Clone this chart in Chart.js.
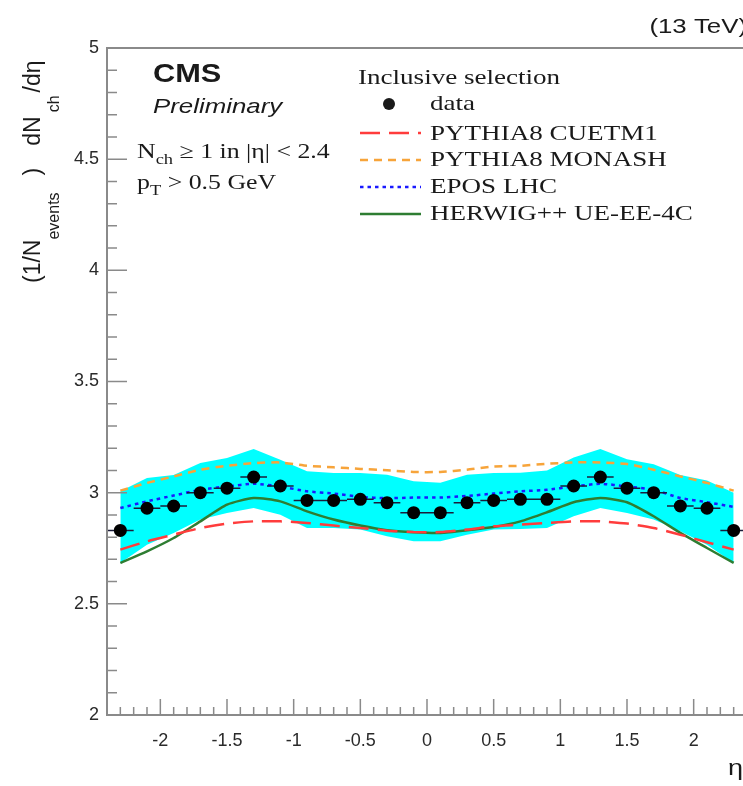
<!DOCTYPE html>
<html>
<head>
<meta charset="utf-8">
<script src="https://cdn.jsdelivr.net/npm/chart.js@4.4.1/dist/chart.umd.min.js"></script>
<style>
html, body { margin: 0; padding: 0; background: #fff; overflow: hidden; }
#wrap { width: 760px; height: 786px; }
</style>
</head>
<body>
<div id="wrap"><canvas id="etaChart" width="760" height="786"></canvas></div>
<script>
// ===== DATA =====
const etaBins = [-2.3, -2.1, -1.9, -1.7, -1.5, -1.3, -1.1, -0.9, -0.7, -0.5, -0.3, -0.1,
                 0.1, 0.3, 0.5, 0.7, 0.9, 1.1, 1.3, 1.5, 1.7, 1.9, 2.1, 2.3];
const etaHalfWidth = 0.1;
const dataValues = [2.83, 2.93, 2.94, 3.00, 3.02, 3.07, 3.03, 2.965, 2.965, 2.97, 2.955, 2.91,
                    2.91, 2.955, 2.965, 2.97, 2.97, 3.03, 3.07, 3.02, 3.00, 2.94, 2.93, 2.83];
const systUpper = [3.006, 3.066, 3.08, 3.133, 3.156, 3.196, 3.148, 3.096, 3.089, 3.089, 3.081, 3.051,
                   3.045, 3.081, 3.089, 3.09, 3.10, 3.158, 3.196, 3.15, 3.128, 3.08, 3.055, 3.0];
const systLower = [2.684, 2.766, 2.819, 2.879, 2.909, 2.931, 2.901, 2.841, 2.841, 2.834, 2.804, 2.781,
                   2.781, 2.811, 2.834, 2.837, 2.841, 2.894, 2.931, 2.909, 2.879, 2.826, 2.766, 2.684];
const cuetm1 = [2.744, 2.781, 2.811, 2.841, 2.861, 2.871, 2.871, 2.864, 2.852, 2.841, 2.829, 2.823,
                2.823, 2.834, 2.849, 2.856, 2.864, 2.871, 2.871, 2.861, 2.841, 2.811, 2.777, 2.744];
const monash = [3.009, 3.044, 3.073, 3.103, 3.121, 3.133, 3.136, 3.121, 3.114, 3.107, 3.101, 3.093,
                3.093, 3.103, 3.118, 3.121, 3.13, 3.136, 3.136, 3.129, 3.103, 3.073, 3.044, 3.009];
const eposLhc = [2.931, 2.961, 2.987, 3.013, 3.028, 3.04, 3.028, 3.006, 2.996, 2.981, 2.975, 2.978,
                 2.978, 2.985, 2.996, 3.006, 3.013, 3.028, 3.04, 3.028, 3.013, 2.976, 2.957, 2.936];
const herwig = [2.684, 2.736, 2.796, 2.871, 2.946, 2.976, 2.961, 2.916, 2.879, 2.852, 2.831, 2.822,
                2.819, 2.831, 2.846, 2.871, 2.912, 2.957, 2.976, 2.957, 2.894, 2.819, 2.751, 2.684];
const xTickLabels = [-2, -1.5, -1, -0.5, 0, 0.5, 1, 1.5, 2];
const yTickLabels = [2, 2.5, 3, 3.5, 4, 4.5, 5];

// ===== STYLES =====
const SANS = '"Liberation Sans", Arial, sans-serif';
const SERIF = '"Liberation Serif", "Times New Roman", serif';
const SX = 1.23; // horizontal stretch of the original text
const models = [
    { label: 'PYTHIA8 CUETM1', values: cuetm1, color: '#ff3c3c', width: 2.5, dash: [20, 9] },
    { label: 'PYTHIA8 MONASH', values: monash, color: '#f7a43a', width: 2.5, dash: [8, 6] },
    { label: 'EPOS LHC', values: eposLhc, color: '#1a1aff', width: 2.5, dash: [3.5, 4] },
    { label: 'HERWIG++ UE-EE-4C', values: herwig, color: '#2e7d32', width: 2.5, dash: [] },
];

const pts = vals => etaBins.map((x, i) => ({ x, y: vals[i] }));
const errBars = etaBins.flatMap((x, i) => [
    { x: x - etaHalfWidth, y: dataValues[i] },
    { x: x + etaHalfWidth, y: dataValues[i] },
    { x: x + etaHalfWidth, y: null },
]);

// ===== TEXT HELPERS =====
function drawRuns(ctx, parts, x, y, sx, align) {
    ctx.save();
    ctx.translate(x, y);
    ctx.scale(sx, 1);
    let w = 0;
    parts.forEach(p => { ctx.font = p.f; w += ctx.measureText(p.t).width + (p.pad || 0); });
    let cx = align === 'right' ? -w : 0;
    ctx.textAlign = 'left';
    ctx.textBaseline = 'alphabetic';
    parts.forEach(p => {
        cx += p.pad || 0;
        ctx.font = p.f;
        ctx.fillText(p.t, cx, p.dy || 0);
        cx += ctx.measureText(p.t).width;
    });
    ctx.restore();
}

const rootStyle = {
    id: 'rootStyle',
    afterDatasetsDraw(chart) {
        const { ctx, chartArea: a, scales: { x, y } } = chart;
        ctx.save();
        ctx.strokeStyle = '#8a8a8a';
        ctx.lineWidth = 1.5;
        ctx.beginPath();
        for (let i = -24; i <= 24; i++) {
            const px = x.getPixelForValue(i / 10);
            const len = i % 5 === 0 ? 16 : 8;
            ctx.moveTo(px, a.bottom);
            ctx.lineTo(px, a.bottom - len);
        }
        for (let i = 20; i <= 50; i++) {
            const py = y.getPixelForValue(i / 10);
            const len = i % 5 === 0 ? 20 : 10;
            ctx.moveTo(a.left, py);
            ctx.lineTo(a.left + len, py);
        }
        ctx.stroke();
        ctx.lineWidth = 2;
        ctx.strokeRect(a.left, a.top, a.right - a.left, a.bottom - a.top);
        ctx.restore();
    },
    afterDraw(chart) {
        const { ctx, chartArea: a } = chart;
        ctx.save();
        ctx.fillStyle = '#1a1a1a';

        // header texts
        drawRuns(ctx, [{ t: 'CMS', f: 'bold 25px ' + SANS }], 153, 82, SX);
        drawRuns(ctx, [{ t: 'Preliminary', f: 'italic 21px ' + SANS }], 153, 113, SX);
        drawRuns(ctx, [
            { t: 'N', f: '21px ' + SERIF },
            { t: 'ch', f: '15px ' + SERIF, dy: 6 },
            { t: ' \u2265 1 in |\u03b7| < 2.4', f: '21px ' + SERIF },
        ], 137, 158, SX);
        drawRuns(ctx, [
            { t: 'p', f: '21px ' + SERIF },
            { t: 'T', f: '15px ' + SERIF, dy: 6 },
            { t: ' > 0.5 GeV', f: '21px ' + SERIF },
        ], 137, 189, SX);
        drawRuns(ctx, [{ t: '(13 TeV)', f: '21px ' + SANS }], a.right, 33, SX, 'right');
        drawRuns(ctx, [{ t: '\u03b7', f: '22px ' + SANS }], 743, 775, SX, 'right');

        // y title
        ctx.save();
        ctx.translate(40, 283);
        ctx.rotate(-Math.PI / 2);
        drawRuns(ctx, [
            { t: '(1/N', f: '23px ' + SANS },
            { t: 'events', f: '16px ' + SANS, dy: 19 },
            { t: ')', f: '23px ' + SANS, pad: 17 },
            { t: 'dN', f: '23px ' + SANS, pad: 22 },
            { t: 'ch', f: '16px ' + SANS, dy: 19, pad: 4 },
            { t: '/d\u03b7', f: '23px ' + SANS, pad: 3 },
        ], 0, 0, 1);
        ctx.restore();

        // legend
        drawRuns(ctx, [{ t: 'Inclusive selection', f: '22px ' + SERIF }], 358, 84, SX);
        const rows = [110, 140, 166, 193, 220];
        const marks = [104, 133, 160, 187, 214];
        drawRuns(ctx, [{ t: 'data', f: '22px ' + SERIF }], 430, rows[0], SX);
        ctx.beginPath();
        ctx.arc(389, marks[0], 6, 0, Math.PI * 2);
        ctx.fill();
        models.forEach((m, i) => {
            ctx.save();
            ctx.strokeStyle = m.color;
            ctx.lineWidth = m.width;
            ctx.setLineDash(m.dash);
            ctx.beginPath();
            ctx.moveTo(360, marks[i + 1]);
            ctx.lineTo(421, marks[i + 1]);
            ctx.stroke();
            ctx.restore();
            drawRuns(ctx, [{ t: m.label, f: '22px ' + SERIF }], 430, rows[i + 1], SX);
        });
        ctx.restore();
    }
};

// ===== CHART =====
const datasets = [
    { type: 'scatter', label: 'data', data: pts(dataValues), backgroundColor: '#000', borderWidth: 0,
      pointRadius: 6.5, order: 1 },
    { type: 'line', label: 'xerr', data: errBars, borderColor: '#1c1c3a', borderWidth: 1.5,
      pointRadius: 0, spanGaps: false, fill: false, order: 2 },
    ...models.map((m, i) => ({
        type: 'line', label: m.label, data: pts(m.values), borderColor: m.color, borderWidth: m.width,
        borderDash: m.dash, pointRadius: 0, fill: false, tension: 0.2, order: 3 + i
    })),
    { type: 'line', label: 'systLow', data: pts(systLower), borderWidth: 0, pointRadius: 0,
      fill: false, order: 20 },
    { type: 'line', label: 'systUp', data: pts(systUpper), borderWidth: 0, pointRadius: 0,
      fill: '-1', backgroundColor: '#00ffff', order: 20 },
];

new Chart(document.getElementById('etaChart'), {
    type: 'scatter',
    data: { datasets },
    options: {
        responsive: false,
        animation: false,
        events: [],
        layout: { padding: { top: 48, right: 13, left: 0, bottom: 0 } },
        plugins: { legend: { display: false }, tooltip: { enabled: false } },
        scales: {
            x: {
                type: 'linear', min: -2.4, max: 2.4,
                grid: { display: false, drawTicks: false },
                border: { display: false },
                afterBuildTicks: s => { s.ticks = xTickLabels.map(v => ({ value: v })); },
                afterFit: s => { s.height = 71; },
                ticks: { font: { family: SANS, size: 18 }, color: '#2a2a2a', padding: 15,
                         maxRotation: 0, autoSkip: false, callback: v => String(v) }
            },
            y: {
                type: 'linear', min: 2, max: 5,
                grid: { display: false, drawTicks: false },
                border: { display: false },
                afterBuildTicks: s => { s.ticks = yTickLabels.map(v => ({ value: v })); },
                afterFit: s => { s.width = 107; },
                ticks: { font: { family: SANS, size: 18 }, color: '#2a2a2a', padding: 8,
                         autoSkip: false, callback: v => String(v) }
            }
        }
    },
    plugins: [rootStyle]
});
</script>
</body>
</html>
